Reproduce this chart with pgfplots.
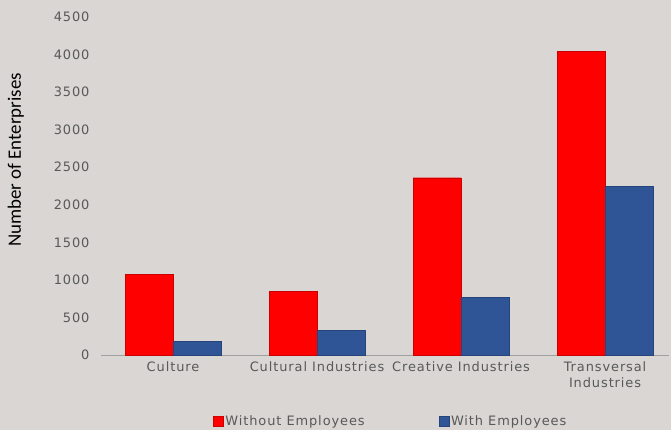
\documentclass[border=0pt]{standalone}
\usepackage{fontspec}
\usepackage{pgfplots}
\pgfplotsset{compat=1.18}
\setmainfont{DejaVu Sans}
\newfontfamily\tickfont[LetterSpace=7]{DejaVu Sans}
\newfontfamily\labfont{Carlito}
\definecolor{bgc}{RGB}{217,214,211}
\definecolor{txtc}{RGB}{89,89,89}
\definecolor{redbar}{RGB}{255,0,0}
\definecolor{bluebar}{RGB}{47,85,151}
\definecolor{axc}{RGB}{160,160,160}

\pgfplotstableread{
x without with
0 1070 180
1 850  330
2 2360 770
3 4040 2250
}\enterprises

\begin{document}
\begin{tikzpicture}
\fill[bgc] (-101bp,-75bp) rectangle (570bp,355bp);
\useasboundingbox (-101bp,-75bp) rectangle (570bp,355bp);
\begin{axis}[
    scale only axis,
    width=568bp, height=338bp,
    at={(0,0)}, anchor=south west,
    xmin=-0.5, xmax=3.444,
    ymin=0, ymax=4500,
    ytick={0,500,...,4500},
    axis lines*=left,
    y axis line style={draw=none},
    ytick style={draw=none},
    x axis line style={axc, line width=0.8pt, -},
    xtick={0,1,2,3},
    xticklabels={Culture, Cultural Industries, Creative Industries, {Transversal\\Industries}},
    xtick style={draw=none},
    extra x ticks={-0.5,0.5,1.5,2.5},
    extra x tick labels={},
    extra x tick style={tick style={axc, draw=axc}, tick align=outside, major tick length=3bp},
    xticklabel style={font=\tickfont\fontsize{13}{16}\selectfont, text=txtc, align=center, yshift=-3bp},
    yticklabel style={font=\tickfont\fontsize{13}{14.5}\selectfont, text=txtc, xshift=-8bp},
    /pgf/number format/assume math mode=true,
    /pgf/number format/1000 sep={},
    ylabel={Number of Enterprises},
    every axis y label/.style={at={(axis description cs:-0.150,0.577)}, anchor=center, rotate=90, font=\labfont\fontsize{19}{21}\selectfont, text=black},
    bar width=0.333,
    legend style={at={(axis description cs:0.51,-0.195)}, anchor=center, draw=none, fill=none,
        legend columns=2, font=\tickfont\fontsize{13}{14.5}\selectfont, text=txtc,
        /tikz/every even column/.append style={column sep=72bp}},
    legend image code/.code={\fill[#1] (0bp,-5bp) rectangle (10bp,5bp);},
]
\addplot[ybar, bar shift=-0.1667, fill=redbar, draw=red!80!black, line width=0.4pt] table[x=x, y=without] {\enterprises};
\addlegendentry{Without Employees}
\addplot[ybar, bar shift=0.1667, fill=bluebar, draw=bluebar!80!black, line width=0.4pt] table[x=x, y=with] {\enterprises};
\addlegendentry{With Employees}
\end{axis}
\end{tikzpicture}
\end{document}
